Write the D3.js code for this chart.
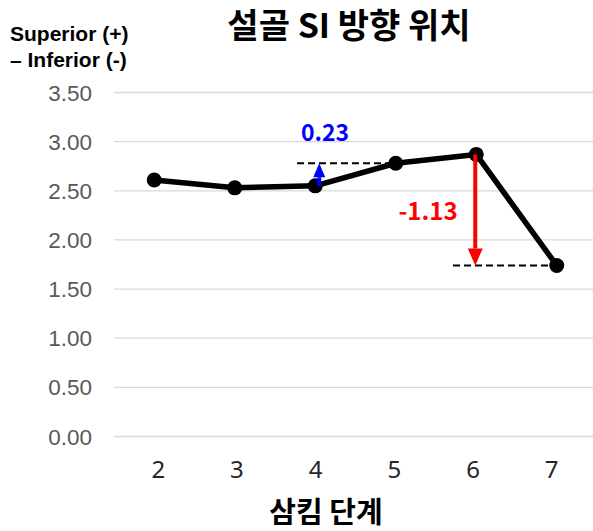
<!DOCTYPE html>
<html><head><meta charset="utf-8">
<script src="https://cdn.jsdelivr.net/npm/d3@7"></script>
<style>body{margin:0;background:#fff}</style>
</head><body>
<script>
const categories = ["2","3","4","5","6","7"];
const values = [2.61, 2.53, 2.55, 2.78, 2.87, 1.74];
const yTicks = [0, 0.5, 1, 1.5, 2, 2.5, 3, 3.5];
const title = "설골 SI 방향 위치";
const xTitle = "삼킴 단계";
const yTitle = ["Superior (+)", "– Inferior (-)"];
const upAnn = {from: 2, to: 3, label: "0.23"};
const downAnn = {from: 4, to: 5, label: "-1.13"};

const W = 593, H = 531;
const svg = d3.select("body").append("svg").attr("width", W).attr("height", H);
const x = d3.scaleBand().domain(categories).range([114, 597]);
const xLab = d3.scalePoint().domain(categories).range([158.3, 551.7]);
const y = d3.scaleLinear().domain([0, 3.5]).range([436.5, 92.5]);
const cx = c => x(c) + x.bandwidth() / 2;
const font = "'Noto Sans CJK KR','Noto Sans',sans-serif";

// gridlines
svg.append("g").selectAll("line").data(yTicks).join("line")
  .attr("x1", 114).attr("x2", W).attr("y1", d => y(d)).attr("y2", d => y(d))
  .attr("stroke", "#d9d9d9").attr("stroke-width", 1.3);

// y tick labels
svg.append("g").selectAll("text").data(yTicks).join("text")
  .attr("x", 92).attr("y", d => y(d)).attr("dy", "0.36em")
  .attr("text-anchor", "end").attr("font-family", "'Liberation Sans',Arial,sans-serif")
  .attr("font-size", 22.5).attr("fill", "#595959").text(d => d.toFixed(2));

// x tick labels
svg.append("g").selectAll("text").data(categories).join("text")
  .attr("x", d => xLab(d)).attr("y", 478)
  .attr("text-anchor", "middle").attr("font-family", "'Noto Sans','Open Sans',sans-serif")
  .attr("font-size", 24).attr("fill", "#262626").text(d => d);

// titles
svg.append("text").attr("x", 349).attr("y", 38).attr("text-anchor", "middle")
  .attr("font-family", font).attr("font-weight", "bold").attr("font-size", 34)
  .attr("fill", "#000").text(title);
svg.append("text").attr("x", 326).attr("y", 523).attr("text-anchor", "middle")
  .attr("font-family", font).attr("font-weight", "bold").attr("font-size", 29)
  .attr("fill", "#000").text(xTitle);
svg.append("g").selectAll("text").data(yTitle).join("text")
  .attr("x", 10).attr("y", (d, i) => 41 + i * 25.5)
  .attr("font-family", "'Liberation Sans',Arial,sans-serif").attr("font-weight", "bold")
  .attr("font-size", 21).attr("fill", "#000").text(d => d);

// line
const pts = categories.map((c, i) => [cx(c), y(values[i])]);
svg.append("path").attr("d", d3.line()(pts)).attr("fill", "none")
  .attr("stroke", "#000").attr("stroke-width", 5.5).attr("stroke-linejoin", "round");
svg.append("g").selectAll("circle").data(pts).join("circle")
  .attr("cx", d => d[0]).attr("cy", d => d[1]).attr("r", 7.5).attr("fill", "#000");

// annotations
function arrow(fromIdx, toIdx, xOff, color, dashX1, dashX2, label, lx, ly, fs, hw, hl) {
  const xa = cx(categories[fromIdx]) + xOff;
  const y0 = y(values[fromIdx]);
  const yLevel = y(values[toIdx]);
  svg.append("line").attr("x1", dashX1).attr("x2", dashX2).attr("y1", yLevel).attr("y2", yLevel)
    .attr("stroke", "#000").attr("stroke-width", 2).attr("stroke-dasharray", "7,4");
  const dir = yLevel < y0 ? -1 : 1;
  svg.append("line").attr("x1", xa).attr("x2", xa).attr("y1", y0).attr("y2", yLevel - dir * hl)
    .attr("stroke", color).attr("stroke-width", 4);
  svg.append("path").attr("d", `M${xa - hw},${yLevel - dir * hl} L${xa + hw},${yLevel - dir * hl} L${xa},${yLevel} Z`)
    .attr("fill", color);
  svg.append("text").attr("x", lx).attr("y", ly).attr("dy", "0.36em").attr("text-anchor", "middle")
    .attr("font-family", font).attr("font-weight", "bold").attr("font-size", fs)
    .attr("fill", color).text(label);
}
arrow(upAnn.from, upAnn.to, 4, "#0000ff", 297, cx(categories[upAnn.to]), upAnn.label, 325, 133, 23, 6, 14);
arrow(downAnn.from, downAnn.to, -1, "#ff0000", 453, cx(categories[downAnn.to]), downAnn.label, 428, 211, 24, 7.5, 17);
</script>
</body></html>
